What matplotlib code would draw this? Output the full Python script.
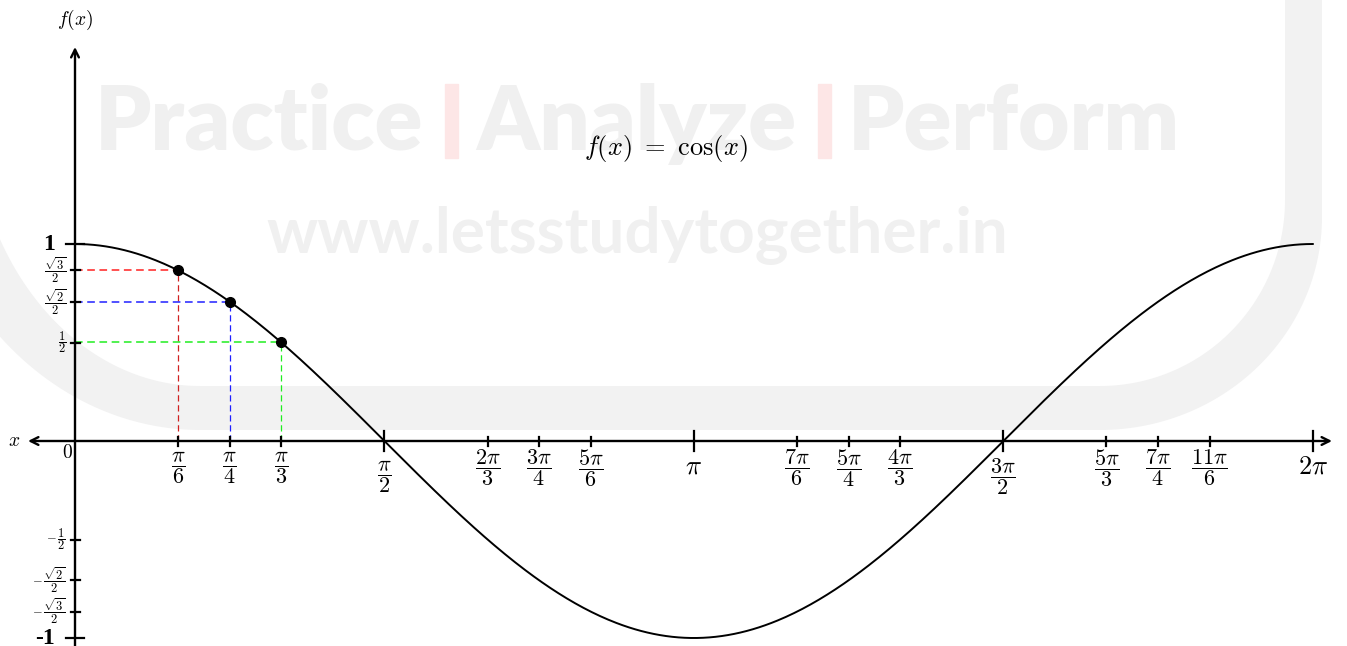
import numpy as np
import matplotlib
matplotlib.use("Agg")
import matplotlib.pyplot as plt
from matplotlib.patches import Rectangle, Polygon

plt.rcParams['mathtext.fontset'] = 'cm'

W, H = 1347, 646
pi = np.pi

# tick positions and labels along the x axis
minor_x = [pi/6, pi/4, pi/3, 2*pi/3, 3*pi/4, 5*pi/6,
           7*pi/6, 5*pi/4, 4*pi/3, 5*pi/3, 7*pi/4, 11*pi/6]
minor_x_labels = [r'$\dfrac{\pi}{6}$', r'$\dfrac{\pi}{4}$', r'$\dfrac{\pi}{3}$',
                  r'$\dfrac{2\pi}{3}$', r'$\dfrac{3\pi}{4}$', r'$\dfrac{5\pi}{6}$',
                  r'$\dfrac{7\pi}{6}$', r'$\dfrac{5\pi}{4}$', r'$\dfrac{4\pi}{3}$',
                  r'$\dfrac{5\pi}{3}$', r'$\dfrac{7\pi}{4}$', r'$\dfrac{11\pi}{6}$']
half_x = [pi/2, 3*pi/2]
half_x_labels = [r'$\dfrac{\pi}{2}$', r'$\dfrac{3\pi}{2}$']
whole_x = [pi, 2*pi]
whole_x_labels = [r'$\pi$', r'$2\pi$']

# tick positions and labels along the y axis
minor_y = [np.sqrt(3)/2, np.sqrt(2)/2, 0.5, -0.5, -np.sqrt(2)/2, -np.sqrt(3)/2]
minor_y_labels = [r'$\dfrac{\sqrt{3}}{2}$', r'$\dfrac{\sqrt{2}}{2}$', r'$\dfrac{1}{2}$',
                  r'$-\,\dfrac{1}{2}$', r'$-\,\dfrac{\sqrt{2}}{2}$',
                  r'$-\,\dfrac{\sqrt{3}}{2}$']
major_y = [1, -1]
major_y_labels = ['1', '-1']

# marked angles on the curve
marked_x = [pi/6, pi/4, pi/3]
h_colors = ['#ff2020', '#2020ff', '#20ee20']
v_colors = ['#d02020', '#2020ff', '#20ee20']

S = 197.0   # pixels per unit
X0, Y0 = 75, 441

fig = plt.figure(figsize=(W/100, H/100), dpi=100)
ax = fig.add_axes([0, 0, 1, 1])
ax.set_xlim(-X0/S, (W - X0)/S)
ax.set_ylim(-(H - Y0)/S, Y0/S)
ax.axis('off')
ax.patch.set_visible(False)


def fpx(x, y):
    return x/W, 1 - y/H


def arc(cx, cy, rx, ry, a0, a1, n=60):
    t = np.linspace(a0, a1, n)
    return np.column_stack([cx + rx*np.cos(t), cy + ry*np.sin(t)])


# background logo band (pixel coords, y downward)
inner = np.vstack([[[-29, -20]],
                   arc(200, 100, 229, 286, pi, pi/2),
                   arc(1100, 200, 185, 186, pi/2, 0),
                   [[1285, -20]]])
outer = np.vstack([[[1322, -20]],
                   arc(1100, 217, 222, 213, 0, pi/2),
                   arc(200, 100, 287, 330, pi/2, pi),
                   [[-87, -20]]])
band = np.vstack([inner, outer])
band[:, 0] /= W
band[:, 1] = 1 - band[:, 1]/H
fig.add_artist(Polygon(band, closed=True, transform=fig.transFigure,
                       facecolor='#f2f2f2', edgecolor='none', zorder=-5))
fig.add_artist(plt.Circle(fpx(862, -18), 36/W, transform=fig.transFigure,
                          color='#efefef', zorder=-5))

# watermark text
wm = dict(fontfamily='Lato', fontweight='heavy', fontsize=64, va='baseline',
          ha='left', transform=fig.transFigure, zorder=-4, color='#f0f0f0')
fig.text(*fpx(95, 150), 'Practice', **wm)
fig.text(*fpx(476, 150), 'Analyze', **wm)
fig.text(*fpx(848, 150), 'Perform', **wm)
for bar_x in (445, 818):
    fig.add_artist(Rectangle(fpx(bar_x, 158), 13/W, 74/H, transform=fig.transFigure,
                             color='#fde6e6', zorder=-4))
fig.text(*fpx(637, 252), 'www.letsstudytogether.in', color='#f0f0f0',
         fontfamily='Lato', fontweight='bold', fontsize=46, ha='center',
         va='baseline', transform=fig.transFigure, zorder=-4)

# axes with arrow heads
arrow = dict(arrowstyle='<->', color='black', lw=1.7, shrinkA=0, shrinkB=0,
             mutation_scale=14)
ax.annotate('', xy=((1332 - X0)/S, 0), xytext=((28 - X0)/S, 0), arrowprops=arrow)
ax.annotate('', xy=(0, (Y0 - 47)/S), xytext=(0, -1.2),
            arrowprops=dict(arrowstyle='->', color='black', lw=1.7,
                            shrinkA=0, shrinkB=0, mutation_scale=14))

# ticks
tick_kw = dict(color='black', lw=1.6, zorder=3)
for v in minor_x:
    ax.plot([v, v], [-4.5/S, 4.5/S], **tick_kw)
for v in half_x + whole_x:
    ax.plot([v, v], [-10/S, 10/S], **tick_kw)
for v in minor_y:
    ax.plot([-4.5/S, 4.5/S], [v, v], **tick_kw)
for v in major_y:
    ax.plot([-9/S, 9/S], [v, v], **tick_kw)

# the cosine curve
xs = np.linspace(0, 2*pi, 600)
ax.plot(xs, np.cos(xs), color='black', lw=1.4, zorder=4)

# dashed guides and marked points
for v, hc, vc in zip(marked_x, h_colors, v_colors):
    c = np.cos(v)
    ax.plot([0, v], [c, c], color=hc, lw=1.1, ls=(0, (5, 3)), zorder=2)
    ax.plot([v, v], [0, c], color=vc, lw=0.9, ls=(0, (5, 3)), zorder=2)
ax.plot(marked_x, np.cos(marked_x), 'o', color='black', ms=7, zorder=5)

# x tick labels
for v, lab in zip(minor_x, minor_x_labels):
    ax.annotate(lab, (v, 0), xytext=(0, -27), textcoords='offset pixels',
                ha='center', va='center', fontsize=16)
for v, lab in zip(half_x, half_x_labels):
    ax.annotate(lab, (v, 0), xytext=(0, -36), textcoords='offset pixels',
                ha='center', va='center', fontsize=16)
for v, lab in zip(whole_x, whole_x_labels):
    ax.annotate(lab, (v, 0), xytext=(0, -26), textcoords='offset pixels',
                ha='center', va='center', fontsize=19)

# y tick labels
for v, lab in zip(minor_y, minor_y_labels):
    ax.annotate(lab, (0, v), xytext=(-9, 0), textcoords='offset pixels',
                ha='right', va='center', fontsize=9)
for v, lab in zip(major_y, major_y_labels):
    ax.annotate(lab, (0, v), xytext=(-20, 0), textcoords='offset pixels',
                ha='right', va='center', fontsize=17,
                fontfamily='Liberation Serif', fontweight='bold')

ax.annotate(r'$0$', (0, 0), xytext=(-8, -11), textcoords='offset pixels',
            ha='center', va='center', fontsize=14)
ax.annotate(r'$x$', ((28 - X0)/S, 0), xytext=(-14, 0), textcoords='offset pixels',
            ha='center', va='center', fontsize=14)
ax.annotate(r'$f(x)$', (0, (Y0 - 47)/S), xytext=(0, 27), textcoords='offset pixels',
            ha='center', va='center', fontsize=14)
ax.text(3.0, (Y0 - 148)/S, r'$f(x) \ =\ \cos(x)$', ha='center', va='center',
        fontsize=19)

fig.savefig('out.png', dpi=100)
